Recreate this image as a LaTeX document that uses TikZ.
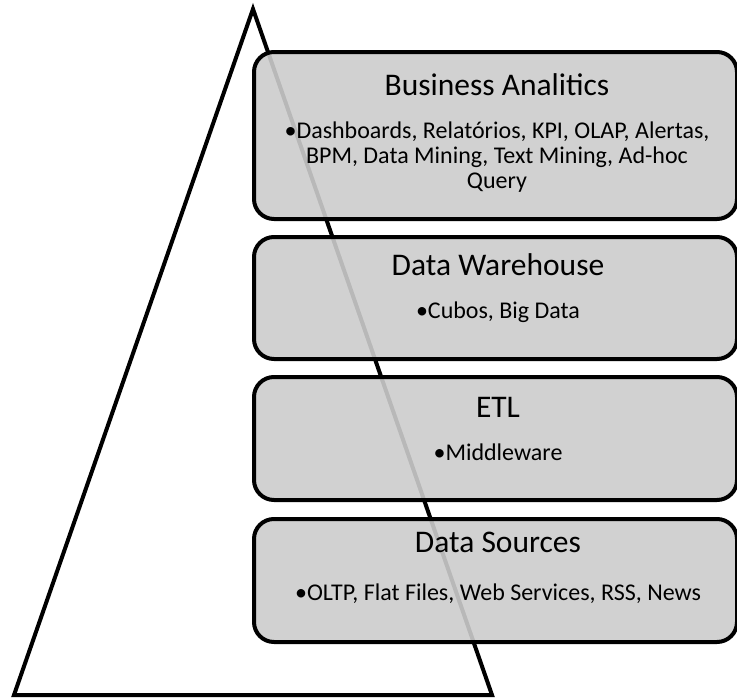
\documentclass[tikz,border=0pt]{standalone}
\usepackage{fontspec}
\setmainfont{Carlito}
\begin{document}
\begin{tikzpicture}[x=1pt,y=-1pt,
  layer/.style={draw=black,line width=4pt,rounded corners=20pt,
    fill=black!20,fill opacity=0.9,inner sep=0pt,anchor=north west},
  title/.style={font=\fontsize{31.5}{36}\selectfont,anchor=base,inner sep=0pt},
  items/.style={font=\fontsize{24}{25}\selectfont,anchor=base,inner sep=0pt,align=center}]
\useasboundingbox (0,0) rectangle (737,699);

% pyramid outline behind the layers
\coordinate (apex) at (253,9);
\coordinate (bl) at (14,695);
\coordinate (br) at (492,695);
\draw[line width=4pt,line join=miter] (apex) -- (br) -- (bl) -- cycle;

% layer boxes
\node[layer,minimum width=483pt,minimum height=167pt] (ba) at (252,50) {};
\node[layer,minimum width=483pt,minimum height=122pt] (dw) at (252,235) {};
\node[layer,minimum width=483pt,minimum height=123pt] (etl) at (252,375) {};
\node[layer,minimum width=483pt,minimum height=123pt] (ds) at (252,517) {};

% layer texts (a multi-line node's base is its last line)
\node[title] (baT) at (497,95) {Business Analitics};
\node[items] (baI) at (497,188) {•Dashboards, Relatórios, KPI, OLAP, Alertas,\\ BPM, Data Mining, Text Mining, Ad-hoc\\ Query};
\node[title] (dwT) at (498,275) {Data Warehouse};
\node[items] (dwI) at (498,318) {•Cubos, Big Data};
\node[title] (etlT) at (498,417) {ETL};
\node[items] (etlI) at (498,460) {•Middleware};
\node[title] (dsT) at (498,552) {Data Sources};
\node[items] (dsI) at (498,600) {•OLTP, Flat Files, Web Services, RSS, News};
\end{tikzpicture}
\end{document}
